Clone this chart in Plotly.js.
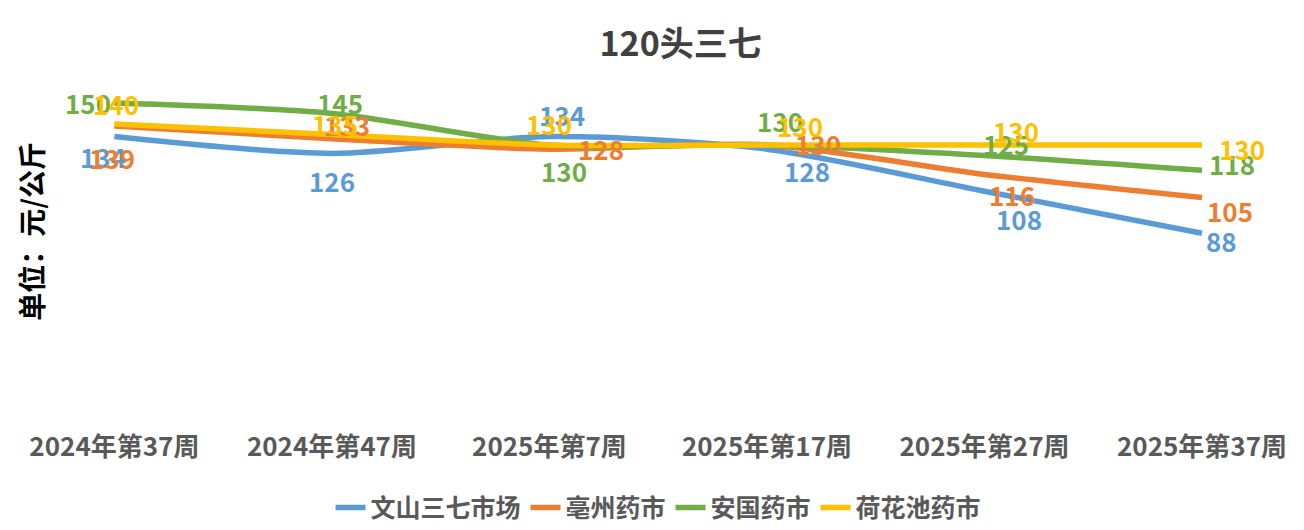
<!DOCTYPE html>
<html>
<head>
<meta charset="utf-8">
<script src="https://cdn.plot.ly/plotly-3.0.1.min.js"></script>
<style>
  html, body { margin: 0; padding: 0; background: #fff; }
  #chart { width: 1304px; height: 530px; }
</style>
</head>
<body>
<div id="chart"></div>
<script>
// categories (weeks) and price series, 元/公斤
const weeks = ['2024年第37周', '2024年第47周', '2025年第7周', '2025年第17周', '2025年第27周', '2025年第37周'];
const seriesNames = ['文山三七市场', '亳州药市', '安国药市', '荷花池药市'];
const wenshan = [134, 126, 134, 128, 108, 88];
const bozhou = [139, 133, 128, 130, 116, 105];
const anguo = [150, 145, 130, 130, 125, 118];
const hehuachi = [140, 135, 130, 130, 130, 130];
const colors = ['#5B9BD5', '#ED7D31', '#70AD47', '#FFC000'];

// pixel offsets of each data label from its point (dx right, dy down),
// picked by eye so the labels sit where the original put them
const labelOffsets = [
  [[-11, 20], [0, 27], [13, -22], [40, 21], [35, 27], [20, 7]],
  [[-2, 31], [15, -14], [52, -1], [51, -2], [28, 20], [28, 13]],
  [[-26, -1], [8, -11], [15, 25], [13, -25], [22, -12], [30, -7]],
  [[2, -21], [3, -11], [0, -22], [33, -20], [32, -15], [40, 3]]
];

const allSeries = [wenshan, bozhou, anguo, hehuachi];
const font = '"Noto Sans CJK SC", "Noto Sans", sans-serif';

const xIdx = weeks.map((w, i) => i);

const traces = allSeries.map((vals, s) => ({
  x: xIdx,
  y: vals,
  name: seriesNames[s],
  type: 'scatter',
  mode: 'lines',
  line: { color: colors[s], width: 5.5, shape: 'spline', smoothing: 0.8 },
  hoverinfo: 'skip'
}));

// data labels as annotations tied to the data coordinates
const annotations = [];
allSeries.forEach((vals, s) => {
  vals.forEach((v, i) => {
    annotations.push({
      x: i, y: v, xref: 'x', yref: 'y',
      text: String(v),
      showarrow: false,
      xshift: labelOffsets[s][i][0],
      yshift: -labelOffsets[s][i][1],
      font: { family: font, size: 26, color: colors[s], weight: 'bold' }
    });
  });
});

// rotated unit label on the left
annotations.push({
  xref: 'paper', yref: 'paper',
  x: -0.0415, y: 0.557,
  text: '<b>单位：元/公斤</b>',
  textangle: -90,
  showarrow: false,
  font: { family: font, size: 28, color: '#000' }
});

const layout = {
  width: 1304,
  height: 530,
  margin: { l: 60, r: 15, t: 82, b: 112, autoexpand: false },
  paper_bgcolor: '#fff',
  plot_bgcolor: '#fff',
  title: {
    text: '<b>120头三七</b>',
    x: 0.505, xref: 'paper', xanchor: 'center',
    y: 0.94, yref: 'container',
    font: { family: font, size: 34, color: '#404040' }
  },
  xaxis: {
    range: [-0.25, 5.4],
    automargin: false,
    tickmode: 'array',
    tickvals: xIdx,
    ticktext: weeks,
    showgrid: false,
    zeroline: false,
    showline: false,
    ticks: '',
    ticklabelstandoff: 11,
    tickfont: { family: font, size: 26, color: '#595959', weight: 'bold' },
    fixedrange: true
  },
  yaxis: {
    range: [0, 160],
    automargin: false,
    showgrid: false,
    zeroline: false,
    showline: false,
    showticklabels: false,
    fixedrange: true
  },
  showlegend: true,
  legend: {
    orientation: 'h',
    xref: 'container', yref: 'container',
    x: 0.505, xanchor: 'center',
    y: 0.042, yanchor: 'middle',
    font: { family: font, size: 25, color: '#595959', weight: 'bold' },
    traceorder: 'normal'
  },
  annotations: annotations
};

Plotly.newPlot('chart', traces, layout, { staticPlot: true, displayModeBar: false });
</script>
</body>
</html>
